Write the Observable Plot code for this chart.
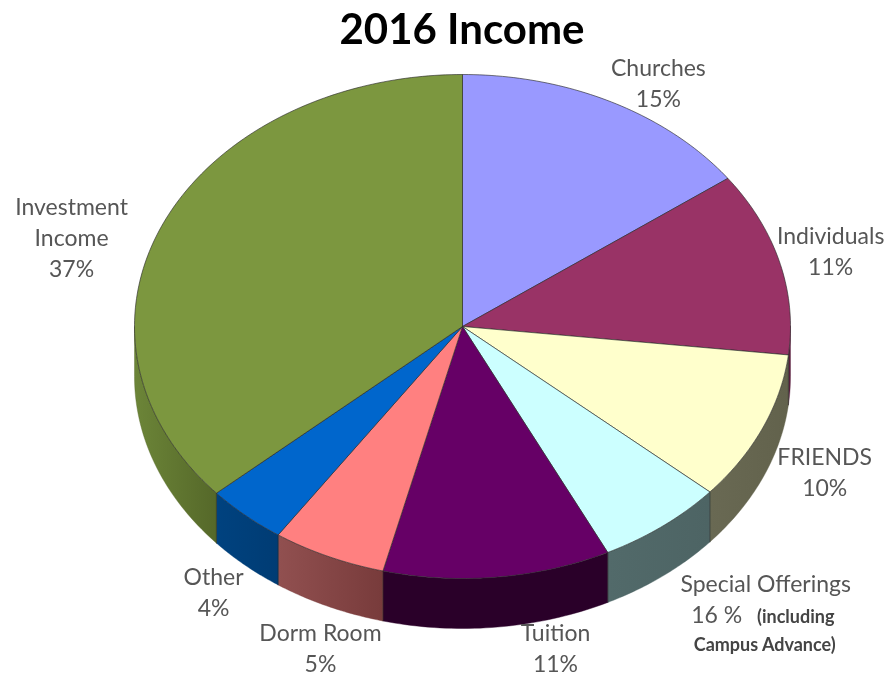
<!DOCTYPE html>
<html>
<head>
<meta charset="utf-8">
<script src="https://cdn.jsdelivr.net/npm/d3@7"></script>
<script src="https://cdn.jsdelivr.net/npm/@observablehq/plot@0.6"></script>
<style>
html,body{margin:0;padding:0;background:#fff}
svg{display:block;max-width:none;filter:blur(0.55px)}
</style>
</head>
<body>
<div id="chart"></div>
<script>
// Slice shares as drawn (percent of the circle)
const categories = ["Churches","Individuals","FRIENDS","Special Offerings","Tuition","Dorm Room","Other","Investment Income"];
const shares     = [15, 11.8, 9.6, 6.3, 11.2, 5.6, 4, 36.5];
const printed    = ["15%","11%","10%","16 %","11%","5%","4%","37%"];
const topColors  = ["#9999ff","#993366","#ffffcc","#ccffff","#660066","#ff8080","#0066cc","#7c973f"];
// Wall shading of each slice, from its left end to its right end
const sideLeft   = ["#4d4d80","#4f1a36","#696953","#526a6a","#2a0029","#915050","#00427f","#6c8538"];
const sideRight  = ["#4d4d80","#5c2040","#62624c","#4d6464","#2a0029","#783b3b","#003c74","#556829"];

// Nudges of each label from its slice's rim midpoint
const labelDx = [47, 51, 62, 0, 58, -8, -32, -92];
const labelDy = [-20, -13, 43, 0, 69.5, 90.5, 75, 13];

// Pie geometry in plot-scale units: the rim is an ellipse of x-radius 1, y-radius 1
const centerPx = [462, 326], radiusPx = [328, 252], depth = 50 / 252;
const W = 889, H = 677;
const rad = d => d * Math.PI / 180;
const rim = (deg, drop = 0) => ({x: Math.sin(rad(deg)), y: Math.cos(rad(deg)) - drop});

let acc = 0;
const slices = categories.map((name, i) => {
  const start = acc / 100 * 360; acc += shares[i];
  return {name, i, start, end: acc / 100 * 360, mid: (start + acc / 100 * 360) / 2};
});

// Top faces
const faces = slices.flatMap(s => {
  const pts = [{x: 0, y: 0}];
  const n = Math.max(8, Math.ceil(s.end - s.start));
  for (let k = 0; k <= n; k++) pts.push(rim(s.start + (s.end - s.start) * k / n));
  pts.push({x: 0, y: 0});
  return pts.map(p => ({...p, id: s.name, color: topColors[s.i]}));
});

// Side walls: only the front half of the rim shows
const wallMarks = [], edges = [], gradients = [];
slices.forEach(s => {
  const a = Math.max(s.start, 90), b = Math.min(s.end, 270);
  if (b <= a) return;
  const arc = d3.range(0, 41).map(k => a + (b - a) * k / 40);
  const wall = [...arc.map(d => rim(d)), ...arc.slice().reverse().map(d => rim(d, depth)), rim(a)];
  gradients.push({id: `wall${s.i}`, left: sideLeft[s.i], right: sideRight[s.i]});
  wallMarks.push(Plot.line(wall, {x: "x", y: "y", fill: `url(#wall${s.i})`, stroke: sideRight[s.i], strokeWidth: 0.4, curve: "linear"}));
  if (s.start >= 90 && s.start <= 270) edges.push({...rim(s.start), id: s.name}, {...rim(s.start, depth), id: s.name});
});

// Wall gradients run horizontally across each wall's bounding box
const gradientDefs = () => {
  const defs = d3.create("svg:defs");
  gradients.forEach(g => {
    const lg = defs.append("linearGradient").attr("id", g.id)
      .attr("x1", 0).attr("x2", 1).attr("y1", 0).attr("y2", 0);
    lg.append("stop").attr("offset", 0).attr("stop-color", g.left);
    lg.append("stop").attr("offset", 1).attr("stop-color", g.right);
  });
  return defs.node();
};

const labelFont = "Lato, Carlito, sans-serif";
const textFill = "#565656";
const labelMarks = slices.filter(s => s.name !== "Special Offerings").map(s => {
  const words = s.name === "Investment Income" ? "Investment\nIncome" : s.name;
  return Plot.text([{...rim(s.mid), t: words + "\n" + printed[s.i]}], {
    x: "x", y: "y", text: "t", dx: labelDx[s.i], dy: labelDy[s.i],
    fontSize: 23, lineHeight: 1.35, fill: textFill, fontFamily: labelFont
  });
});

// Special Offerings has its own mixed-size label
const sp = slices[3], spAnchor = [rim(sp.mid)];
const spText = (t, dx, dy, size, weight) => Plot.text(spAnchor, {
  x: "x", y: "y", text: () => t, dx, dy, fontSize: size, fontWeight: weight,
  fill: weight === "bold" ? "#444" : textFill, fontFamily: labelFont
});

const chart = Plot.plot({
  width: W, height: H, margin: 0,
  x: {domain: [-centerPx[0] / radiusPx[0], (W - centerPx[0]) / radiusPx[0]], range: [0, W], axis: null},
  y: {domain: [centerPx[1] / radiusPx[1], (centerPx[1] - H) / radiusPx[1]], range: [0, H], axis: null},
  color: {type: "identity"},
  style: {background: "#fff"},
  marks: [
    gradientDefs,
    ...wallMarks,
    Plot.line(edges, {x: "x", y: "y", z: "id", stroke: "#222", strokeWidth: 0.7, strokeOpacity: 0.75}),
    Plot.line(faces, {x: "x", y: "y", z: "id", fill: "color", stroke: "#2b2b2b", strokeWidth: 0.8, strokeOpacity: 0.8, strokeLinejoin: "round", curve: "linear"}),
    ...labelMarks,
    spText("Special Offerings", 103, 59, 23, "normal"),
    spText("16 %", 54, 90, 23, "normal"),
    spText("(including", 133, 91, 18, "bold"),
    spText("Campus Advance)", 102, 119, 18, "bold"),
    Plot.text(["2016 Income"], {
      frameAnchor: "top", text: d => d, dy: 30, dx: 17,
      fontSize: 42, fontWeight: "bold", fill: "#000", fontFamily: labelFont, lineAnchor: "middle"
    })
  ]
});
document.getElementById("chart").appendChild(chart);
</script>
</body>
</html>
